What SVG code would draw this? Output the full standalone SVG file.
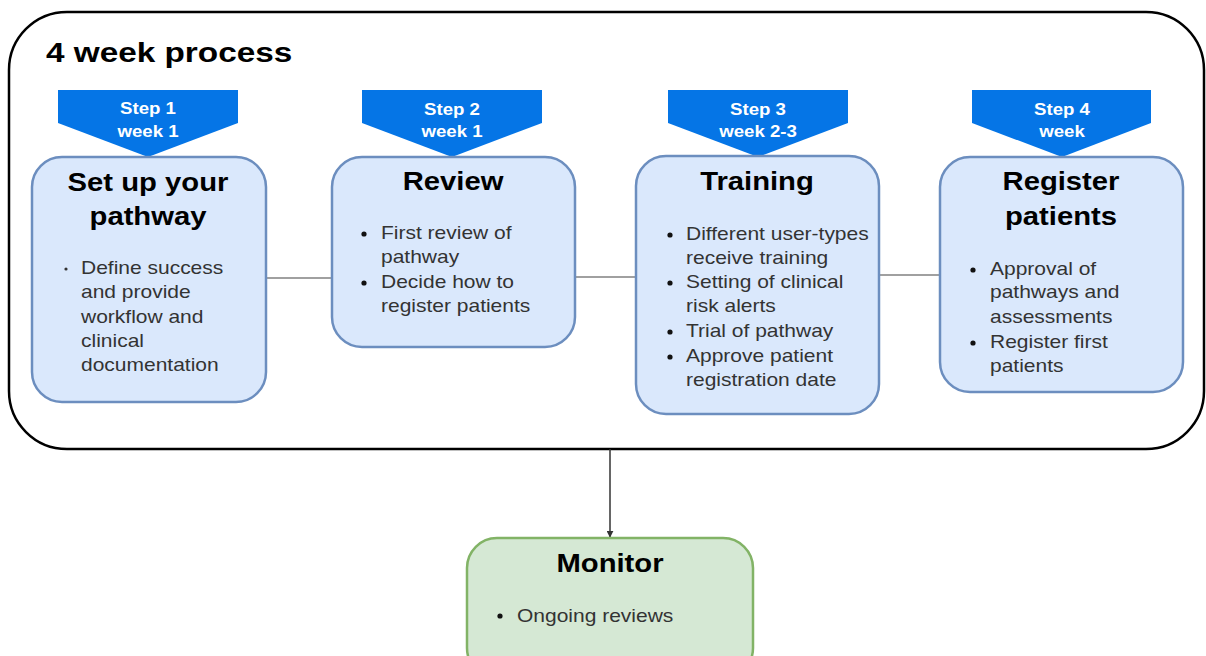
<svg xmlns="http://www.w3.org/2000/svg" width="1206" height="656" viewBox="0 0 1206 656">
<defs>
<style>
.outer{fill:#ffffff;stroke:#000000;stroke-width:2.5}
.node{fill:#dae8fc;stroke:#6c8ebf;stroke-width:2.5}
.mon{fill:#d5e8d4;stroke:#82b366;stroke-width:2.5}
.banner{fill:#0575e6;stroke:none}
.conn{stroke:#a0a0a0;stroke-width:2;fill:none}
.arrow{stroke:#333333;stroke-width:1.5;fill:none}
.title{font-family:"Liberation Sans",Arial,sans-serif;font-weight:bold;font-size:28px;fill:#000}
.step{font-family:"Liberation Sans",Arial,sans-serif;font-weight:bold;font-size:16.5px;fill:#ffffff;text-anchor:middle}
.head{font-family:"Liberation Sans",Arial,sans-serif;font-weight:bold;font-size:25px;fill:#000;text-anchor:middle}
.body{font-family:"Liberation Sans",Arial,sans-serif;font-size:17.5px;fill:#333333}
</style>
<marker id="ah" viewBox="0 0 10 10" refX="9" refY="5" markerWidth="7" markerHeight="7" orient="auto" markerUnits="userSpaceOnUse">
<path d="M0,0 L10,5 L0,10 Z" fill="#333333"/>
</marker>
</defs>
<rect x="0" y="0" width="1206" height="656" fill="#ffffff"/>

<g id="container">
<rect class="outer" x="9" y="12" width="1195" height="437" rx="58" ry="58"/>
<text class="title" transform="translate(46,62) scale(1.19,1)" x="0" y="0">4 week process</text>
</g>

<g id="connectors">
<line class="conn" x1="267" y1="278" x2="332" y2="278"/>
<line class="conn" x1="575" y1="277" x2="636" y2="277"/>
<line class="conn" x1="879" y1="275" x2="939" y2="275"/>
<line class="arrow" x1="610" y1="449" x2="610" y2="537" marker-end="url(#ah)"/>
</g>

<g id="step1">
<polygon class="banner" points="58,90 238,90 238,123 148,157 58,123"/>
<g transform="translate(148,0) scale(1.13,1)">
<text class="step" x="0" y="114">Step 1</text>
<text class="step" x="0" y="137">week 1</text>
</g>
</g>
<g id="step2">
<polygon class="banner" points="362,90 542,90 542,123 452,157 362,123"/>
<g transform="translate(452,0) scale(1.13,1)">
<text class="step" x="0" y="115">Step 2</text>
<text class="step" x="0" y="137">week 1</text>
</g>
</g>
<g id="step3">
<polygon class="banner" points="668,90 848,90 848,123 758,157 668,123"/>
<g transform="translate(758,0) scale(1.13,1)">
<text class="step" x="0" y="115">Step 3</text>
<text class="step" x="0" y="137">week 2-3</text>
</g>
</g>
<g id="step4">
<polygon class="banner" points="972,90 1151,90 1151,123 1062,157 972,123"/>
<g transform="translate(1062,0) scale(1.13,1)">
<text class="step" x="0" y="115">Step 4</text>
<text class="step" x="0" y="137">week</text>
</g>
</g>

<g id="node-setup">
<rect class="node" x="32" y="157" width="234" height="245" rx="30" ry="30"/>
<g transform="translate(148,0) scale(1.17,1)">
<text class="head" x="0" y="191">Set up your</text>
<text class="head" x="0" y="225">pathway</text>
</g>
<circle cx="66" cy="269" r="1.6" fill="#333333"/>
<g transform="translate(81,0) scale(1.2,1)">
<text class="body" x="0" y="274">Define success</text>
<text class="body" x="0" y="298">and provide</text>
<text class="body" x="0" y="323">workflow and</text>
<text class="body" x="0" y="347">clinical</text>
<text class="body" x="0" y="371">documentation</text>
</g>
</g>

<g id="node-review">
<rect class="node" x="332" y="157" width="243" height="190" rx="30" ry="30"/>
<g transform="translate(453,0) scale(1.17,1)">
<text class="head" x="0" y="190">Review</text>
</g>
<circle cx="364" cy="234" r="2.6" fill="#111111"/>
<circle cx="364" cy="283" r="2.6" fill="#111111"/>
<g transform="translate(381,0) scale(1.2,1)">
<text class="body" x="0" y="239">First review of</text>
<text class="body" x="0" y="263">pathway</text>
<text class="body" x="0" y="288">Decide how to</text>
<text class="body" x="0" y="312">register patients</text>
</g>
</g>

<g id="node-training">
<rect class="node" x="636" y="156" width="243" height="258" rx="30" ry="30"/>
<g transform="translate(757,0) scale(1.17,1)">
<text class="head" x="0" y="190">Training</text>
</g>
<circle cx="670" cy="235" r="2.6" fill="#111111"/>
<circle cx="670" cy="283" r="2.6" fill="#111111"/>
<circle cx="670" cy="332" r="2.6" fill="#111111"/>
<circle cx="670" cy="357" r="2.6" fill="#111111"/>
<g transform="translate(686,0) scale(1.2,1)">
<text class="body" x="0" y="240">Different user-types</text>
<text class="body" x="0" y="264">receive training</text>
<text class="body" x="0" y="288">Setting of clinical</text>
<text class="body" x="0" y="312">risk alerts</text>
<text class="body" x="0" y="337">Trial of pathway</text>
<text class="body" x="0" y="362">Approve patient</text>
<text class="body" x="0" y="386">registration date</text>
</g>
</g>

<g id="node-register">
<rect class="node" x="940" y="157" width="243" height="235" rx="30" ry="30"/>
<g transform="translate(1061,0) scale(1.17,1)">
<text class="head" x="0" y="190">Register</text>
<text class="head" x="0" y="225">patients</text>
</g>
<circle cx="973" cy="270" r="2.6" fill="#111111"/>
<circle cx="973" cy="343" r="2.6" fill="#111111"/>
<g transform="translate(990,0) scale(1.2,1)">
<text class="body" x="0" y="275">Approval of</text>
<text class="body" x="0" y="298">pathways and</text>
<text class="body" x="0" y="323">assessments</text>
<text class="body" x="0" y="348">Register first</text>
<text class="body" x="0" y="372">patients</text>
</g>
</g>

<g id="node-monitor">
<rect class="mon" x="467" y="538" width="286" height="140" rx="30" ry="30"/>
<g transform="translate(610,0) scale(1.17,1)">
<text class="head" x="0" y="572">Monitor</text>
</g>
<circle cx="500" cy="616" r="2.6" fill="#111111"/>
<g transform="translate(517,0) scale(1.2,1)">
<text class="body" x="0" y="622">Ongoing reviews</text>
</g>
</g>
</svg>
